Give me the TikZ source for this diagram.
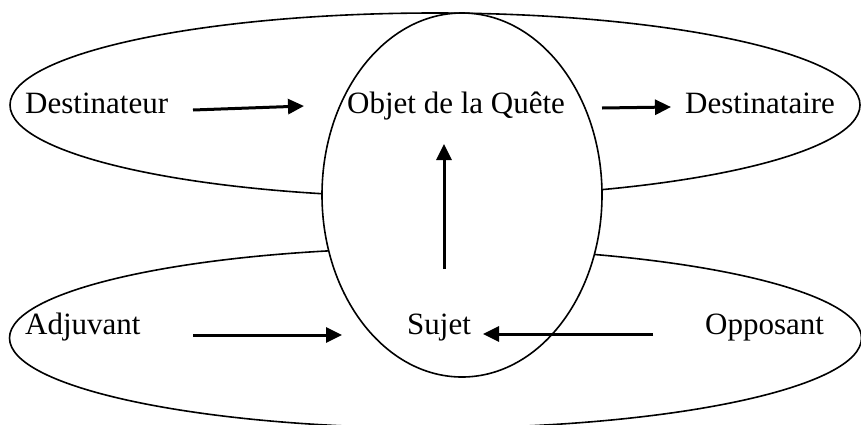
\documentclass[tikz,border=0pt]{standalone}
\usepackage{fontspec}
\setmainfont{Liberation Serif}
\usetikzlibrary{arrows.meta}
\begin{document}
\begin{tikzpicture}[x=1pt,y=-1pt,
  ring/.style={draw=black,line width=1.6pt},
  lbl/.style={inner sep=0pt,anchor=base west,font=\fontsize{31}{37}\selectfont},
  arr/.style={line width=3pt,-{Triangle[length=16pt,width=15pt]}}]
\useasboundingbox (0,0) rectangle (861,424);
\fill[white] (0,0) rectangle (861,424);
\draw[ring] (435,105) ellipse [x radius=425, y radius=92];
\draw[ring] (435.5,338) ellipse [x radius=426, y radius=90];
\draw[ring,fill=white] (462,195) ellipse [x radius=140, y radius=182];
\node[lbl] (dest) at (25,113) {Destinateur};
\node[lbl] (obj) at (347,113) {Objet de la Quête};
\node[lbl] (dtaire) at (685,113) {Destinataire};
\node[lbl] (adj) at (25,334) {Adjuvant};
\node[lbl] (suj) at (407,334) {Sujet};
\node[lbl] (opp) at (705,334) {Opposant};
\coordinate (a1s) at (193,110);
\coordinate (a1e) at (304,106);
\coordinate (a2s) at (602,108);
\coordinate (a2e) at (671,107);
\coordinate (a3s) at (444,269);
\coordinate (a3e) at (444,144);
\coordinate (a4s) at (193,335);
\coordinate (a4e) at (342,335);
\coordinate (a5s) at (653,334);
\coordinate (a5e) at (483,334);
\draw[arr] (a1s) -- (a1e);
\draw[arr] (a2s) -- (a2e);
\draw[arr] (a3s) -- (a3e);
\draw[arr] (a4s) -- (a4e);
\draw[arr] (a5s) -- (a5e);
\end{tikzpicture}
\end{document}
